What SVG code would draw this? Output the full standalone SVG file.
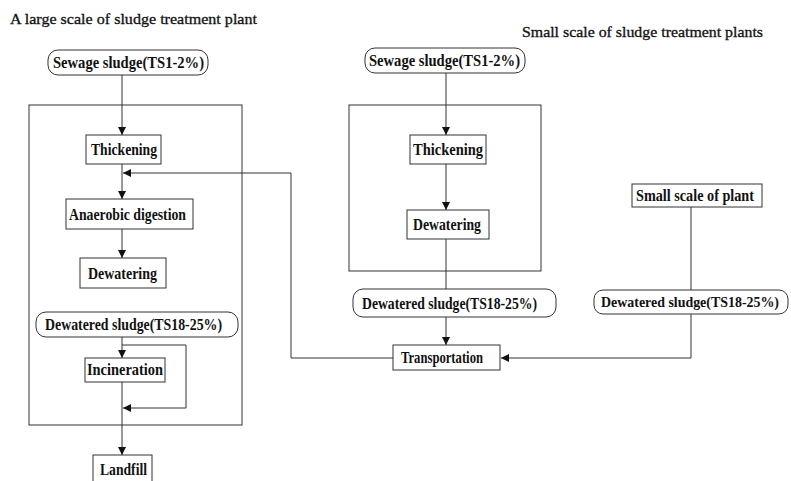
<svg xmlns="http://www.w3.org/2000/svg" width="791" height="481" viewBox="0 0 791 481">
<style>
.t{font-family:"Liberation Serif","Times New Roman",serif;font-size:16px;font-weight:bold;fill:#111}
.s{font-size:14px}
.ti{font-family:"Liberation Serif","Times New Roman",serif;font-size:15px;fill:#111;stroke:#111;stroke-width:0.3}
.b{fill:#fff;stroke:#333;stroke-width:1}
.f{fill:none;stroke:#333;stroke-width:1}
.c{fill:none;stroke:#333;stroke-width:1}
</style>
<defs>
<marker id="a" viewBox="0 0 10 10" refX="10" refY="5" markerWidth="8" markerHeight="8" markerUnits="userSpaceOnUse" orient="auto">
<path d="M0,0 L10,5 L0,10 z" fill="#111"/>
</marker>
</defs>
<rect width="791" height="481" fill="#fff"/>
<text class="ti" x="10" y="24" textLength="247" lengthAdjust="spacingAndGlyphs">A large scale of sludge treatment plant</text>
<text class="ti" x="522" y="37" textLength="241" lengthAdjust="spacingAndGlyphs">Small scale of sludge treatment plants</text>

<g id="frame-large"><rect class="f" x="29" y="105" width="213" height="320"/></g>
<g id="frame-small"><rect class="f" x="349" y="105" width="192" height="166"/></g>

<g id="connectors">
<path class="c" d="M122,75 V135" marker-end="url(#a)"/>
<path class="c" d="M122,164 V199" marker-end="url(#a)"/>
<path class="c" d="M393,358 H291 V173 H123" marker-end="url(#a)"/>
<path class="c" d="M122,229 V258" marker-end="url(#a)"/>
<path class="c" d="M122,337 V358" marker-end="url(#a)"/>
<path class="c" d="M122,345 H186 V408 H123" marker-end="url(#a)"/>
<path class="c" d="M122,382 V455" marker-end="url(#a)"/>
<path class="c" d="M446,73 V135" marker-end="url(#a)"/>
<path class="c" d="M446,164 V210" marker-end="url(#a)"/>
<path class="c" d="M446,239 V289"/>
<path class="c" d="M446,317 V345" marker-end="url(#a)"/>
<path class="c" d="M691,207 V290"/>
<path class="c" d="M691,314 V358 H501" marker-end="url(#a)"/>
</g>

<g id="sewage-left"><rect class="b" x="48" y="50" width="160" height="25" rx="10"/><text class="t" x="53" y="68" textLength="151" lengthAdjust="spacingAndGlyphs">Sewage sludge(TS1-2%)</text></g>
<g id="thickening-left"><rect class="b" x="86" y="135" width="75" height="29"/><text class="t" x="91" y="155" textLength="66" lengthAdjust="spacingAndGlyphs">Thickening</text></g>
<g id="anaerobic"><rect class="b" x="66" y="199" width="127" height="30"/><text class="t" x="69" y="220" textLength="117" lengthAdjust="spacingAndGlyphs">Anaerobic digestion</text></g>
<g id="dewatering-left"><rect class="b" x="80" y="258" width="86" height="30"/><text class="t" x="88" y="279" textLength="69" lengthAdjust="spacingAndGlyphs">Dewatering</text></g>
<g id="dewatered-left"><rect class="b" x="36" y="312" width="202" height="25" rx="10"/><text class="t" x="45" y="330" textLength="177" lengthAdjust="spacingAndGlyphs">Dewatered sludge(TS18-25%)</text></g>
<g id="incineration"><rect class="b" x="85" y="358" width="80" height="24"/><text class="t" x="87" y="375" textLength="76" lengthAdjust="spacingAndGlyphs">Incineration</text></g>
<g id="landfill"><rect class="b" x="93" y="455" width="59" height="30"/><text class="t" x="100" y="475" textLength="47" lengthAdjust="spacingAndGlyphs">Landfill</text></g>

<g id="sewage-mid"><rect class="b" x="365" y="48" width="160" height="25" rx="10"/><text class="t" x="369" y="66" textLength="151" lengthAdjust="spacingAndGlyphs">Sewage sludge(TS1-2%)</text></g>
<g id="thickening-mid"><rect class="b" x="410" y="135" width="76" height="29"/><text class="t" x="413" y="155" textLength="70" lengthAdjust="spacingAndGlyphs">Thickening</text></g>
<g id="dewatering-mid"><rect class="b" x="407" y="210" width="82" height="29"/><text class="t" x="413" y="230" textLength="68" lengthAdjust="spacingAndGlyphs">Dewatering</text></g>
<g id="dewatered-mid"><rect class="b" x="353" y="289" width="203" height="28" rx="10"/><text class="t" x="362" y="309" textLength="175" lengthAdjust="spacingAndGlyphs">Dewatered sludge(TS18-25%)</text></g>
<g id="transportation"><rect class="b" x="393" y="345" width="107" height="25"/><text class="t" x="401" y="363" textLength="82" lengthAdjust="spacingAndGlyphs">Transportation</text></g>

<g id="small-plant"><rect class="b" x="632" y="184" width="130" height="23"/><text class="t" x="636" y="201" textLength="118" lengthAdjust="spacingAndGlyphs">Small scale of  plant</text></g>
<g id="dewatered-right"><rect class="b" x="594" y="290" width="194" height="24" rx="9"/><text class="t s" x="601" y="307" textLength="178" lengthAdjust="spacingAndGlyphs">Dewatered sludge(TS18-25%)</text></g>
</svg>
